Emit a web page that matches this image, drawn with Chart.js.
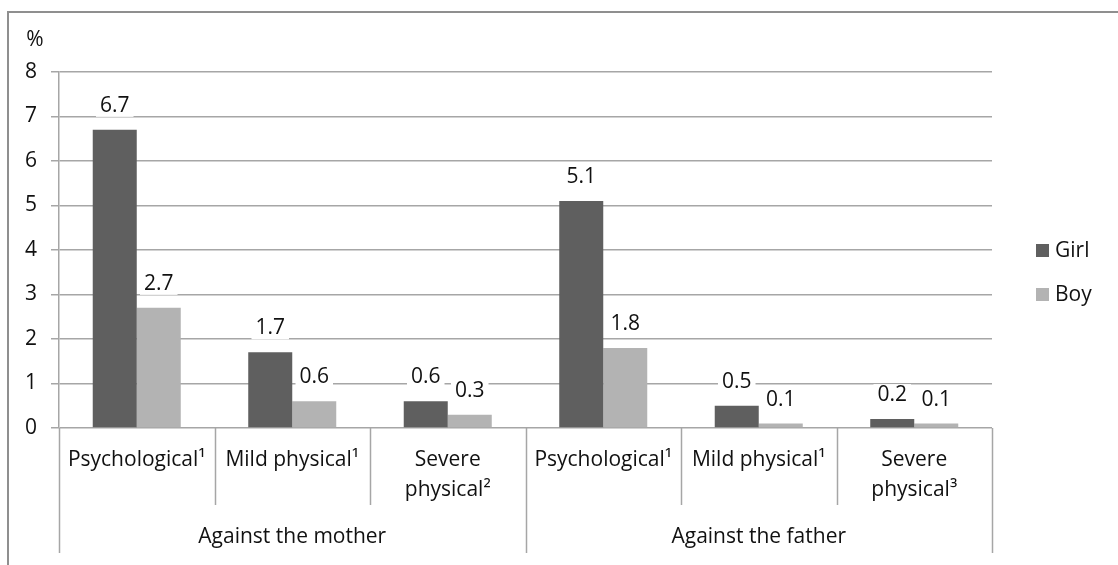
<!DOCTYPE html>
<html>
<head>
<meta charset="utf-8">
<title>Violence by gender</title>
<script src="https://cdn.jsdelivr.net/npm/chart.js@4.4.1/dist/chart.umd.min.js"></script>
<style>
  html, body { margin: 0; padding: 0; background: #fff; }
  #wrap { width: 1118px; height: 565px; }
</style>
</head>
<body>
<div id="wrap"><canvas id="chart" width="1118" height="565"></canvas></div>
<script>
// данные графика
const groups = ["Against the mother", "Against the father"];
const groupSize = 3;
const categories = [
  ["Psychological¹"],
  ["Mild physical¹"],
  ["Severe", "physical²"],
  ["Psychological¹"],
  ["Mild physical¹"],
  ["Severe", "physical³"],
];
const girlValues = [6.7, 1.7, 0.6, 5.1, 0.5, 0.2];
const boyValues = [2.7, 0.6, 0.3, 1.8, 0.1, 0.1];
const seriesNames = ["Girl", "Boy"];
const yMin = 0;
const yMax = 8;
const yStep = 1;
const yUnit = "%";

const FONT = "'Open Sans', 'DejaVu Sans', sans-serif";
const FONT_SIZE = 21;
const TEXT_COLOR = "#111";
const LINE_COLOR = "#a6a6a6";
const COLORS = ["#5f5f5f", "#b3b3b3"];

// подписи, разделители категорий, легенда, рамка
const decor = {
  id: "decor",
  beforeDraw(chart) {
    const ctx = chart.ctx;
    ctx.save();
    ctx.fillStyle = "#fff";
    ctx.fillRect(0, 0, chart.width, chart.height);
    ctx.strokeStyle = "#8f8f8f";
    ctx.lineWidth = 2;
    ctx.strokeRect(8, 12, chart.width + 20, chart.height + 20);
    ctx.restore();
  },
  afterDraw(chart) {
    const ctx = chart.ctx;
    const x = chart.scales.x;
    const area = chart.chartArea;
    const n = categories.length;
    const step = x.getPixelForValue(1) - x.getPixelForValue(0);

    ctx.save();
    ctx.font = `${FONT_SIZE}px ${FONT}`;
    ctx.fillStyle = TEXT_COLOR;
    ctx.textAlign = "center";
    ctx.textBaseline = "middle";

    // единица оси Y
    ctx.fillText(yUnit, 35, 40);

    // вертикальные разделители под осью
    ctx.strokeStyle = LINE_COLOR;
    ctx.lineWidth = 1.5;
    for (let i = 0; i <= n; i++) {
      const px = x.getPixelForValue(i) - step / 2;
      const isGroupEdge = i % groupSize === 0;
      ctx.beginPath();
      ctx.moveTo(Math.round(px) + 0.5, area.bottom);
      ctx.lineTo(Math.round(px) + 0.5, isGroupEdge ? 553 : 505);
      ctx.stroke();
    }

    // подписи категорий
    categories.forEach((lines, i) => {
      const cx = x.getPixelForValue(i);
      lines.forEach((line, j) => ctx.fillText(line, cx, 460 + j * 30));
    });

    // подписи групп
    groups.forEach((g, gi) => {
      const first = x.getPixelForValue(gi * groupSize);
      const last = x.getPixelForValue(gi * groupSize + groupSize - 1);
      ctx.fillText(g, (first + last) / 2, 537);
    });

    // значения над столбцами
    chart.data.datasets.forEach((ds, di) => {
      const meta = chart.getDatasetMeta(di);
      meta.data.forEach((bar, i) => {
        const label = ds.data[i].toFixed(1);
        const ty = bar.y - 24;
        const w = ctx.measureText(label).width;
        ctx.fillStyle = "#fff";
        ctx.fillRect(bar.x - w / 2 - 4, ty - 11, w + 8, 22);
        ctx.fillStyle = TEXT_COLOR;
        ctx.fillText(label, bar.x, ty);
      });
    });

    // легенда
    ctx.textAlign = "left";
    const legendY = [251, 295];
    chart.data.datasets.forEach((ds, di) => {
      ctx.fillStyle = ds.backgroundColor;
      ctx.fillRect(1036, legendY[di] - 7, 13, 13);
      ctx.fillStyle = TEXT_COLOR;
      ctx.fillText(ds.label, 1055, legendY[di]);
    });

    ctx.restore();
  },
};

const ctx = document.getElementById("chart").getContext("2d");
new Chart(ctx, {
  type: "bar",
  data: {
    labels: categories.map((c) => c.join(" ")),
    datasets: [
      { label: seriesNames[0], data: girlValues, backgroundColor: COLORS[0] },
      { label: seriesNames[1], data: boyValues, backgroundColor: COLORS[1] },
    ],
  },
  options: {
    responsive: false,
    animation: false,
    devicePixelRatio: 1,
    layout: { padding: { left: 0, top: 72, right: 126, bottom: 137 } },
    datasets: { bar: { categoryPercentage: 0.566, barPercentage: 1 } },
    plugins: {
      legend: { display: false },
      tooltip: { enabled: false },
    },
    scales: {
      x: {
        grid: { display: false },
        ticks: { display: false },
        border: { display: false },
        afterFit: (scale) => { scale.height = 0; },
      },
      y: {
        min: yMin,
        max: yMax,
        ticks: {
          stepSize: yStep,
          padding: 14,
          color: TEXT_COLOR,
          font: { family: FONT, size: FONT_SIZE },
        },
        grid: { color: LINE_COLOR, lineWidth: 1.5, tickLength: 8 },
        border: { color: LINE_COLOR, width: 1.5 },
        afterFit: (scale) => { scale.width = 59; },
      },
    },
  },
  plugins: [decor],
});
</script>
</body>
</html>
